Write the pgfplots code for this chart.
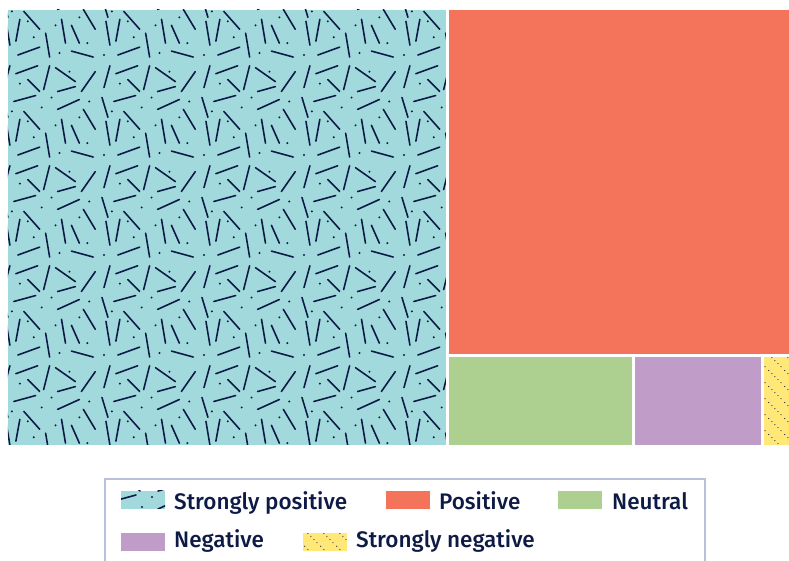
\documentclass[border=0pt]{standalone}
\usepackage{pgfplots}
\pgfplotsset{compat=1.18}
\usepackage{pgfplotstable}
\usetikzlibrary{patterns}
\usepackage{fontspec}
\setmainfont{Fira Sans}[UprightFont={* Medium}]

\definecolor{cTeal}{HTML}{A1D9DC}
\definecolor{cCoral}{HTML}{F4735B}
\definecolor{cGreen}{HTML}{ADCF8F}
\definecolor{cPurple}{HTML}{C09CC8}
\definecolor{cYellow}{HTML}{FFE877}
\definecolor{cNavy}{HTML}{0E1A46}
\definecolor{cBorder}{HTML}{B9BFDD}

% scattered dashes and dots
\pgfdeclarepatternformonly{sparks}{\pgfpointorigin}{\pgfqpoint{100pt}{100pt}}{\pgfqpoint{100pt}{100pt}}{%
  \pgfsetlinewidth{1.6pt}\pgfsetroundcap
  \pgfpathmoveto{\pgfqpoint{4pt}{74pt}}\pgfpathlineto{\pgfqpoint{10pt}{96pt}}
  \pgfpathmoveto{\pgfqpoint{16pt}{88pt}}\pgfpathlineto{\pgfqpoint{38pt}{96pt}}
  \pgfpathmoveto{\pgfqpoint{44pt}{72pt}}\pgfpathlineto{\pgfqpoint{50pt}{96pt}}
  \pgfpathmoveto{\pgfqpoint{56pt}{94pt}}\pgfpathlineto{\pgfqpoint{76pt}{80pt}}
  \pgfpathmoveto{\pgfqpoint{82pt}{70pt}}\pgfpathlineto{\pgfqpoint{96pt}{90pt}}
  \pgfpathmoveto{\pgfqpoint{14pt}{60pt}}\pgfpathlineto{\pgfqpoint{36pt}{66pt}}
  \pgfpathmoveto{\pgfqpoint{24pt}{50pt}}\pgfpathlineto{\pgfqpoint{40pt}{32pt}}
  \pgfpathmoveto{\pgfqpoint{58pt}{52pt}}\pgfpathlineto{\pgfqpoint{80pt}{62pt}}
  \pgfpathmoveto{\pgfqpoint{62pt}{42pt}}\pgfpathlineto{\pgfqpoint{66pt}{18pt}}
  \pgfpathmoveto{\pgfqpoint{84pt}{52pt}}\pgfpathlineto{\pgfqpoint{96pt}{32pt}}
  \pgfpathmoveto{\pgfqpoint{6pt}{40pt}}\pgfpathlineto{\pgfqpoint{10pt}{16pt}}
  \pgfpathmoveto{\pgfqpoint{18pt}{6pt}}\pgfpathlineto{\pgfqpoint{40pt}{14pt}}
  \pgfpathmoveto{\pgfqpoint{46pt}{28pt}}\pgfpathlineto{\pgfqpoint{50pt}{4pt}}
  \pgfpathmoveto{\pgfqpoint{72pt}{10pt}}\pgfpathlineto{\pgfqpoint{94pt}{4pt}}
  \pgfpathmoveto{\pgfqpoint{28pt}{82pt}}\pgfpathlineto{\pgfqpoint{40pt}{70pt}}
  \pgfpathmoveto{\pgfqpoint{58pt}{70pt}}\pgfpathlineto{\pgfqpoint{76pt}{75pt}}
  \pgfpathmoveto{\pgfqpoint{72pt}{36pt}}\pgfpathlineto{\pgfqpoint{80pt}{18pt}}
  \pgfpathmoveto{\pgfqpoint{16pt}{20pt}}\pgfpathlineto{\pgfqpoint{20pt}{42pt}}
  \pgfpathmoveto{\pgfqpoint{2pt}{64pt}}\pgfpathlineto{\pgfqpoint{8pt}{44pt}}
  \pgfusepath{stroke}
  \pgfpathcircle{\pgfqpoint{20pt}{78pt}}{1.1pt}
  \pgfpathcircle{\pgfqpoint{52pt}{64pt}}{1.1pt}
  \pgfpathcircle{\pgfqpoint{70pt}{90pt}}{1.1pt}
  \pgfpathcircle{\pgfqpoint{90pt}{60pt}}{1.1pt}
  \pgfpathcircle{\pgfqpoint{12pt}{50pt}}{1.1pt}
  \pgfpathcircle{\pgfqpoint{34pt}{24pt}}{1.1pt}
  \pgfpathcircle{\pgfqpoint{56pt}{36pt}}{1.1pt}
  \pgfpathcircle{\pgfqpoint{80pt}{44pt}}{1.1pt}
  \pgfpathcircle{\pgfqpoint{28pt}{40pt}}{1.1pt}
  \pgfpathcircle{\pgfqpoint{88pt}{18pt}}{1.1pt}
  \pgfpathcircle{\pgfqpoint{4pt}{6pt}}{1.1pt}
  \pgfpathcircle{\pgfqpoint{60pt}{8pt}}{1.1pt}
  \pgfpathcircle{\pgfqpoint{42pt}{54pt}}{1.1pt}
  \pgfusepath{fill}
}

% dotted diagonals
\pgfdeclarepatternformonly{dotdiag}{\pgfpointorigin}{\pgfqpoint{16pt}{16pt}}{\pgfqpoint{16pt}{16pt}}{%
  \pgfpathcircle{\pgfqpoint{0.8pt}{15.2pt}}{0.6pt}
  \pgfpathcircle{\pgfqpoint{4pt}{12pt}}{0.6pt}
  \pgfpathcircle{\pgfqpoint{7.2pt}{8.8pt}}{0.6pt}
  \pgfpathcircle{\pgfqpoint{10.4pt}{5.6pt}}{0.6pt}
  \pgfpathcircle{\pgfqpoint{13.6pt}{2.4pt}}{0.6pt}
  \pgfusepath{fill}
}

% share of responses per sentiment (%)
\pgfplotstableread{
cat value
SP  56.3
P   34.7
Neu 4.9
Neg 3.4
SN  0.7
}\sentiment

\pgfplotstablegetelem{0}{value}\of\sentiment \let\vSP\pgfplotsretval
\pgfplotstablegetelem{1}{value}\of\sentiment \let\vP\pgfplotsretval
\pgfplotstablegetelem{2}{value}\of\sentiment \let\vNeu\pgfplotsretval
\pgfplotstablegetelem{3}{value}\of\sentiment \let\vNeg\pgfplotsretval
\pgfplotstablegetelem{4}{value}\of\sentiment \let\vSN\pgfplotsretval

% treemap layout on a 100 x 1 area
\pgfmathsetmacro\xA{\vSP}
\pgfmathsetmacro\yB{1-\vP/(100-\xA)}
\pgfmathsetmacro\xB{\xA+\vNeu/\yB}
\pgfmathsetmacro\xC{\xB+\vNeg/\yB}
\pgfmathsetmacro\xD{\xC+\vSN/\yB}

\begin{document}
\begin{tikzpicture}
\path[use as bounding box] (0pt,0pt) rectangle (789pt,561pt);
\begin{axis}[at={(8pt,116pt)}, anchor=south west, scale only axis,
  width=781pt, height=435pt, hide axis, no markers,
  xmin=0, xmax=100, ymin=0, ymax=1]
\addplot[draw=none, fill=cTeal, postaction={pattern=sparks, pattern color=cNavy}]
  coordinates {(0,0) (\xA,0) (\xA,1) (0,1)} -- cycle;
\addplot[draw=none, fill=cCoral]
  coordinates {(\xA,\yB) (100,\yB) (100,1) (\xA,1)} -- cycle;
\addplot[draw=none, fill=cGreen]
  coordinates {(\xA,0) (\xB,0) (\xB,\yB) (\xA,\yB)} -- cycle;
\addplot[draw=none, fill=cPurple]
  coordinates {(\xB,0) (\xC,0) (\xC,\yB) (\xB,\yB)} -- cycle;
\addplot[draw=none, fill=cYellow, postaction={pattern=dotdiag, pattern color=cNavy}]
  coordinates {(\xC,0) (\xD,0) (\xD,\yB) (\xC,\yB)} -- cycle;
% gaps between tiles
\addplot[white, line width=3.5pt] coordinates {(\xA,0) (\xA,1)};
\addplot[white, line width=3.5pt] coordinates {(\xA,\yB) (100,\yB)};
\addplot[white, line width=3.5pt] coordinates {(\xB,0) (\xB,\yB)};
\addplot[white, line width=3.5pt] coordinates {(\xC,0) (\xC,\yB)};
\end{axis}

% legend
\draw[cBorder, line width=1.2pt] (105pt,-10pt) rectangle (705pt,82pt);
\begin{scope}[every node/.style={anchor=base west, inner sep=0pt, text=cNavy,
    font=\fontsize{22.5}{27}\selectfont}]
  \fill[cTeal] (121pt,52pt) rectangle (165pt,70pt);
  \fill[pattern=sparks, pattern color=cNavy] (121pt,52pt) rectangle (165pt,70pt);
  \node at (174pt,51.7pt) {Strongly positive};
  \fill[cCoral] (386pt,52pt) rectangle (430pt,70pt);
  \node at (439pt,51.7pt) {Positive};
  \fill[cGreen] (558pt,52pt) rectangle (602pt,70pt);
  \node at (612pt,51.7pt) {Neutral};
  \fill[cPurple] (121pt,10pt) rectangle (165pt,28pt);
  \node at (174pt,13.5pt) {Negative};
  \fill[cYellow] (303pt,10pt) rectangle (347pt,28pt);
  \fill[pattern=dotdiag, pattern color=cNavy] (303pt,10pt) rectangle (347pt,28pt);
  \node at (356pt,13.5pt) {Strongly negative};
\end{scope}
\end{tikzpicture}
\end{document}
